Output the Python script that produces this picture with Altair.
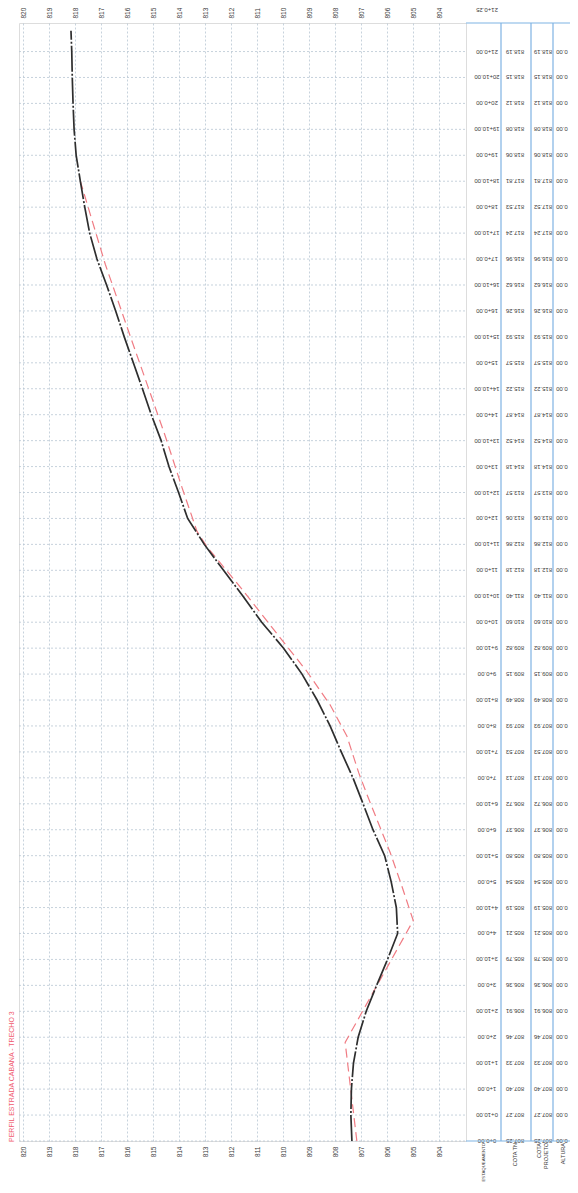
import altair as alt
import pandas as pd

# ---------------- data ----------------
# table rows (bottom -> top)
estacas = ["0+0.00", "0+10.00", "1+0.00", "1+10.00", "2+0.00", "2+10.00", "3+0.00", "3+10.00",
           "4+0.00", "4+10.00", "5+0.00", "5+10.00", "6+0.00", "6+10.00", "7+0.00", "7+10.00",
           "8+0.00", "8+10.00", "9+0.00", "9+10.00", "10+0.00", "10+10.00", "11+0.00", "11+10.00",
           "12+0.00", "12+10.00", "13+0.00", "13+10.00", "14+0.00", "14+10.00", "15+0.00", "15+10.00",
           "16+0.00", "16+10.00", "17+0.00", "17+10.00", "18+0.00", "18+10.00", "19+0.00", "19+10.00",
           "20+0.00", "20+10.00", "21+0.00"]
dist_tab = [0, 10, 20, 30, 40, 50, 60, 70, 80, 90, 100, 110, 120, 130, 140, 150, 160, 170, 180, 190,
            200, 210, 220, 230, 240, 250, 260, 270, 280, 290, 300, 310, 320, 330, 340, 350, 360, 370,
            380, 390, 400, 410, 420]
cota_tn = [807.25, 807.27, 807.40, 807.33, 807.46, 806.91, 806.36, 805.79, 805.21, 805.19, 805.54,
           805.80, 806.37, 806.72, 807.13, 807.53, 807.93, 808.49, 809.15, 809.82, 810.60, 811.40,
           812.18, 812.86, 813.06, 813.57, 814.18, 814.52, 814.87, 815.22, 815.57, 815.93, 816.26,
           816.62, 816.96, 817.24, 817.53, 817.81, 818.06, 818.08, 818.12, 818.15, 818.19]
cota_projeto = [807.25, 807.27, 807.40, 807.33, 807.46, 806.91, 806.36, 805.78, 805.21, 805.19, 805.54,
                805.80, 806.37, 806.72, 807.13, 807.53, 807.93, 808.49, 809.15, 809.82, 810.60, 811.40,
                812.18, 812.86, 813.06, 813.57, 814.18, 814.52, 814.87, 815.22, 815.57, 815.93, 816.26,
                816.62, 816.96, 817.24, 817.52, 817.81, 818.06, 818.08, 818.12, 818.15, 818.19]
altura = [0.00] * 43
estaca_final = "21+0.25"

# drawn ground profile (black)
perfil_dist = [0, 10, 20, 30, 40, 50, 60, 70, 80, 90, 100, 110, 120, 130, 140, 150, 160, 170, 180,
               190, 200, 210, 220, 230, 240, 250, 260, 270, 280, 290, 300, 310, 320, 330, 340, 350,
               360, 370, 380, 390, 400, 410, 420, 428]
perfil_cota = [807.36, 807.40, 807.38, 807.30, 807.12, 806.81, 806.41, 805.99, 805.60, 805.65, 805.85,
               806.10, 806.55, 806.93, 807.32, 807.77, 808.20, 808.70, 809.28, 809.99, 810.83, 811.55,
               812.30, 813.04, 813.68, 814.03, 814.40, 814.70, 815.08, 815.42, 815.77, 816.12, 816.45,
               816.80, 817.17, 817.45, 817.64, 817.81, 817.97, 818.05, 818.09, 818.12, 818.14, 818.17]

# drawn design grade (red dashed)
greide_dist = [0, 38, 85, 98, 111, 132, 142, 156, 168, 181, 194, 212, 229, 235, 252, 272, 310, 338, 370]
greide_cota = [807.17, 807.62, 805.00, 805.43, 805.88, 806.72, 807.10, 807.55, 808.19, 809.09, 810.12,
               811.53, 812.93, 813.32, 813.90, 814.55, 815.88, 816.85, 817.81]

elev_ticks = [804, 805, 806, 807, 808, 809, 810, 811, 812, 813, 814, 815, 816, 817, 818, 819, 820]
dist_grid = [0, 10, 20, 30, 40, 50, 60, 70, 80, 90, 100, 110, 120, 130, 140, 150, 160, 170, 180, 190,
             200, 210, 220, 230, 240, 250, 260, 270, 280, 290, 300, 310, 320, 330, 340, 350, 360, 370,
             380, 390, 400, 410, 420]

titulo = "PERFIL  ESTRADA CABANA - TRECHO 3"
cabecalhos = ["ESTAQUEAMENTO", "COTA TN", "COTA\nPROJETO", "ALTURA"]

# ---------------- style ----------------
W, H = 447, 1118
FONT = "Liberation Sans Narrow, Liberation Sans, sans-serif"
FRAME = "#7fb3e3"
GRID = "#b9c6d3"
TXT = "#3a3a3a"

xs = alt.Scale(domain=[802.97, 820.17], reverse=True, nice=False, zero=False)
ys = alt.Scale(domain=[0, 431], nice=False, zero=False)

tn_df = pd.DataFrame({"dist": perfil_dist, "cota": perfil_cota})
gr_df = pd.DataFrame({"dist": greide_dist, "cota": greide_cota})
grid_df = pd.DataFrame({"dist": dist_grid})
tab_df = pd.DataFrame({
    "dist": dist_tab,
    "estaca": estacas,
    "tn": [f"{v:.2f}" for v in cota_tn],
    "proj": [f"{v:.2f}" for v in cota_projeto],
    "alt": [f"{v:.2f}" for v in altura],
})

axis_common = dict(values=elev_ticks, labelAngle=270, labelFontSize=6.5, labelFont=FONT,
                   labelColor=TXT, domain=False, ticks=False)

# horizontal grid (every 10 m)
hgrid = alt.Chart(grid_df).mark_rule(color=GRID, strokeWidth=0.8, strokeDash=[2, 2]).encode(
    y=alt.Y("dist:Q", scale=ys, axis=None), x=alt.value(0), x2=alt.value(W))

greide = alt.Chart(gr_df).mark_line(color="#f07c84", strokeWidth=1.2, strokeDash=[9, 5]).encode(
    x=alt.X("cota:Q", scale=xs, title=None,
            axis=alt.Axis(orient="bottom", labelPadding=5, grid=True, gridColor=GRID,
                          gridDash=[2, 2], gridWidth=0.8, **axis_common)),
    y=alt.Y("dist:Q", scale=ys, axis=None),
    order="dist:Q",
)

terreno = alt.Chart(tn_df).mark_line(color="#2e2e2e", strokeWidth=1.7, strokeDash=[26, 2, 2, 2]).encode(
    x=alt.X("cota:Q", scale=xs, title=None,
            axis=alt.Axis(orient="top", labelPadding=5, grid=False, **axis_common)),
    y=alt.Y("dist:Q", scale=ys, axis=None),
    order="dist:Q",
)


def coluna(field, xpx):
    return alt.Chart(tab_df).mark_text(angle=180, fontSize=6, font=FONT, color=TXT,
                                       align="center", baseline="middle").encode(
        x=alt.value(xpx), y=alt.Y("dist:Q", scale=ys, axis=None), text=f"{field}:N")


col_est = coluna("estaca", 468)
col_tn = coluna("tn", 496)
col_proj = coluna("proj", 524)
col_alt = coluna("alt", 543)

ultima = alt.Chart(pd.DataFrame({"estaca": [estaca_final]})).mark_text(
    angle=180, fontSize=6, font=FONT, color=TXT, align="center", baseline="middle").encode(
    x=alt.value(468), y=alt.value(-13), text="estaca:N")


def vline(xpx):
    return alt.Chart(pd.DataFrame({"k": [0]})).mark_rule(color=FRAME, strokeWidth=1.2).encode(
        x=alt.value(xpx), y=alt.value(0), y2=alt.value(H))


def hline(ypx):
    return alt.Chart(pd.DataFrame({"k": [0]})).mark_rule(color=FRAME, strokeWidth=1.2).encode(
        x=alt.value(W), x2=alt.value(556), y=alt.value(ypx))


regras = [vline(482), vline(512), vline(534), vline(556), hline(0), hline(H)]

tit = alt.Chart(pd.DataFrame({"t": [titulo]})).mark_text(
    angle=270, fontSize=7, font=FONT, color="#f05a6e", align="left", baseline="middle").encode(
    x=alt.value(-7), y=alt.value(H + 1), text="t:N")

cabs = []
for t, xp, fs in zip(cabecalhos, [465, 496, 520, 544], [4.3, 5.5, 5.5, 5.5]):
    cabs.append(alt.Chart(pd.DataFrame({"t": [t]})).mark_text(
        angle=270, fontSize=fs, font=FONT, color=TXT, align="right", baseline="middle",
        lineBreak="\n", lineHeight=7).encode(x=alt.value(xp), y=alt.value(H + 2), text="t:N"))

chart = alt.layer(hgrid, greide, terreno, col_est, col_tn, col_proj, col_alt, ultima, *regras, tit,
                  *cabs).resolve_axis(x="independent").properties(
    width=W, height=H,
    padding={"left": 11, "top": 15, "right": 104, "bottom": 44},
    autosize=alt.AutoSizeParams(type="none"),
).configure_view(stroke=FRAME, strokeWidth=1.5).configure(background="white")

chart.save("out.html", embed_options={"renderer": "svg", "actions": False})
